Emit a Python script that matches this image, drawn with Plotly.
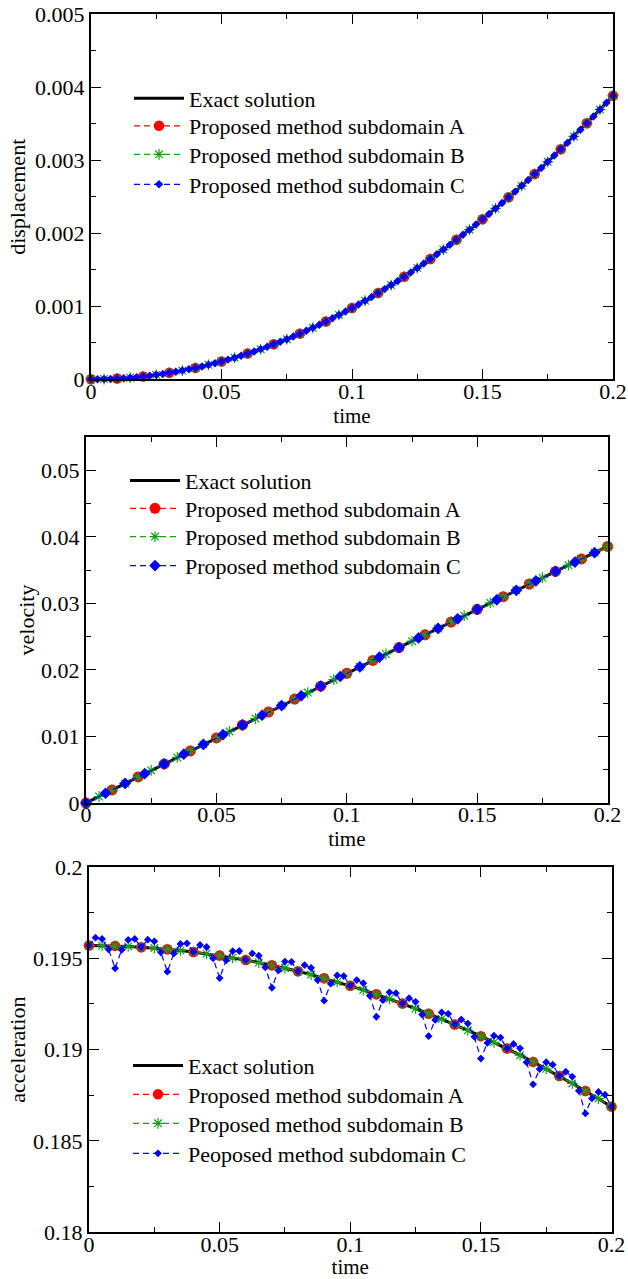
import plotly.graph_objects as go

# ---------------------------------------------------------------- time grids
t_coarse = [0.00, 0.01, 0.02, 0.03, 0.04, 0.05, 0.06, 0.07, 0.08, 0.09, 0.10,
            0.11, 0.12, 0.13, 0.14, 0.15, 0.16, 0.17, 0.18, 0.19, 0.20]
t_mid = [0.000, 0.005, 0.010, 0.015, 0.020, 0.025, 0.030, 0.035, 0.040, 0.045,
         0.050, 0.055, 0.060, 0.065, 0.070, 0.075, 0.080, 0.085, 0.090, 0.095,
         0.100, 0.105, 0.110, 0.115, 0.120, 0.125, 0.130, 0.135, 0.140, 0.145,
         0.150, 0.155, 0.160, 0.165, 0.170, 0.175, 0.180, 0.185, 0.190, 0.195,
         0.200]
t_vel_c = [0.0000, 0.0075, 0.0150, 0.0225, 0.0300, 0.0375, 0.0450, 0.0525,
           0.0600, 0.0675, 0.0750, 0.0825, 0.0900, 0.0975, 0.1050, 0.1125,
           0.1200, 0.1275, 0.1350, 0.1425, 0.1500, 0.1575, 0.1650, 0.1725,
           0.1800, 0.1875, 0.1950]
t_fine = [0.0000, 0.0025, 0.0050, 0.0075, 0.0100, 0.0125, 0.0150, 0.0175,
          0.0200, 0.0225, 0.0250, 0.0275, 0.0300, 0.0325, 0.0350, 0.0375,
          0.0400, 0.0425, 0.0450, 0.0475, 0.0500, 0.0525, 0.0550, 0.0575,
          0.0600, 0.0625, 0.0650, 0.0675, 0.0700, 0.0725, 0.0750, 0.0775,
          0.0800, 0.0825, 0.0850, 0.0875, 0.0900, 0.0925, 0.0950, 0.0975,
          0.1000, 0.1025, 0.1050, 0.1075, 0.1100, 0.1125, 0.1150, 0.1175,
          0.1200, 0.1225, 0.1250, 0.1275, 0.1300, 0.1325, 0.1350, 0.1375,
          0.1400, 0.1425, 0.1450, 0.1475, 0.1500, 0.1525, 0.1550, 0.1575,
          0.1600, 0.1625, 0.1650, 0.1675, 0.1700, 0.1725, 0.1750, 0.1775,
          0.1800, 0.1825, 0.1850, 0.1875, 0.1900, 0.1925, 0.1950, 0.1975,
          0.2000]

# ---------------------------------------------------------------- displacement
disp_exact = [0.0, 0.0000024, 0.0000098, 0.0000220, 0.0000391, 0.0000612,
              0.0000881, 0.0001198, 0.0001565, 0.0001981, 0.0002445, 0.0002958,
              0.0003520, 0.0004131, 0.0004790, 0.0005498, 0.0006255, 0.0007060,
              0.0007914, 0.0008816, 0.0009767, 0.0010766, 0.0011813, 0.0012908,
              0.0014052, 0.0015244, 0.0016484, 0.0017772, 0.0019108, 0.0020492,
              0.0021923, 0.0023402, 0.0024929, 0.0026503, 0.0028125, 0.0029794,
              0.0031511, 0.0033274, 0.0035084, 0.0036942, 0.0038846]
disp_a = [0.0, 0.0000098, 0.0000391, 0.0000881, 0.0001565, 0.0002445,
          0.0003520, 0.0004790, 0.0006255, 0.0007914, 0.0009767, 0.0011813,
          0.0014052, 0.0016484, 0.0019108, 0.0021923, 0.0024929, 0.0028125,
          0.0031511, 0.0035084, 0.0038846]
disp_b = [0.0, 0.0000024, 0.0000098, 0.0000220, 0.0000391, 0.0000612,
          0.0000881, 0.0001198, 0.0001565, 0.0001981, 0.0002445, 0.0002958,
          0.0003520, 0.0004131, 0.0004790, 0.0005498, 0.0006255, 0.0007060,
          0.0007914, 0.0008816, 0.0009767, 0.0010766, 0.0011813, 0.0012908,
          0.0014052, 0.0015244, 0.0016484, 0.0017772, 0.0019108, 0.0020492,
          0.0021923, 0.0023402, 0.0024929, 0.0026503, 0.0028125, 0.0029794,
          0.0031511, 0.0033274, 0.0035084, 0.0036942, 0.0038846]
disp_c = [0.0, 0.0000006, 0.0000024, 0.0000055, 0.0000098, 0.0000153,
          0.0000220, 0.0000300, 0.0000391, 0.0000495, 0.0000612, 0.0000740,
          0.0000881, 0.0001033, 0.0001198, 0.0001376, 0.0001565, 0.0001767,
          0.0001981, 0.0002207, 0.0002445, 0.0002696, 0.0002958, 0.0003233,
          0.0003520, 0.0003819, 0.0004131, 0.0004454, 0.0004790, 0.0005138,
          0.0005498, 0.0005870, 0.0006255, 0.0006651, 0.0007060, 0.0007481,
          0.0007914, 0.0008359, 0.0008816, 0.0009285, 0.0009767, 0.0010260,
          0.0010766, 0.0011283, 0.0011813, 0.0012355, 0.0012908, 0.0013474,
          0.0014052, 0.0014642, 0.0015244, 0.0015858, 0.0016484, 0.0017122,
          0.0017772, 0.0018434, 0.0019108, 0.0019794, 0.0020492, 0.0021202,
          0.0021923, 0.0022657, 0.0023402, 0.0024160, 0.0024929, 0.0025710,
          0.0026503, 0.0027308, 0.0028125, 0.0028954, 0.0029794, 0.0030646,
          0.0031511, 0.0032386, 0.0033274, 0.0034173, 0.0035084, 0.0036007,
          0.0036942, 0.0037888, 0.0038846]

# ---------------------------------------------------------------- velocity
vel_exact = [0.0, 0.0009785, 0.0019570, 0.0029353, 0.0039130, 0.0048914,
             0.0058690, 0.0068463, 0.0078230, 0.0087998, 0.0097760, 0.0107513,
             0.0117260, 0.0127003, 0.0136740, 0.0146465, 0.0156180, 0.0165894,
             0.0175590, 0.0185285, 0.0194970, 0.0204634, 0.0214290, 0.0223937,
             0.0233570, 0.0243189, 0.0252800, 0.0262387, 0.0271960, 0.0281524,
             0.0291070, 0.0300598, 0.0310110, 0.0319603, 0.0329080, 0.0338536,
             0.0347970, 0.0357391, 0.0366790, 0.0376165, 0.0385520]
vel_a = [0.0, 0.001957, 0.003913, 0.005869, 0.007823, 0.009776, 0.011726,
         0.013674, 0.015618, 0.017559, 0.019497, 0.021429, 0.023357, 0.025280,
         0.027196, 0.029107, 0.031011, 0.032908, 0.034797, 0.036679, 0.038552]
vel_b = [0.0, 0.0009785, 0.0019570, 0.0029353, 0.0039130, 0.0048914,
         0.0058690, 0.0068463, 0.0078230, 0.0087998, 0.0097760, 0.0107513,
         0.0117260, 0.0127003, 0.0136740, 0.0146465, 0.0156180, 0.0165894,
         0.0175590, 0.0185285, 0.0194970, 0.0204634, 0.0214290, 0.0223937,
         0.0233570, 0.0243189, 0.0252800, 0.0262387, 0.0271960, 0.0281524,
         0.0291070, 0.0300598, 0.0310110, 0.0319603, 0.0329080, 0.0338536,
         0.0347970, 0.0357391, 0.0366790, 0.0376165, 0.0385520]
vel_c = [0.0, 0.0014677, 0.0029353, 0.0044024, 0.0058690, 0.0073349,
         0.0087998, 0.0102636, 0.0117260, 0.0131871, 0.0146465, 0.0161040,
         0.0175590, 0.0190126, 0.0204634, 0.0219116, 0.0233570, 0.0247994,
         0.0262387, 0.0276746, 0.0291070, 0.0305356, 0.0319603, 0.0333810,
         0.0347970, 0.0362093, 0.0376165]

# ---------------------------------------------------------------- acceleration
acc_exact = [0.19570, 0.19569, 0.19568, 0.19565, 0.19561, 0.19556, 0.19550,
             0.19543, 0.19535, 0.19525, 0.19515, 0.19503, 0.19491, 0.19477,
             0.19462, 0.19446, 0.19429, 0.19411, 0.19391, 0.19371, 0.19350,
             0.19327, 0.19303, 0.19278, 0.19252, 0.19225, 0.19197, 0.19168,
             0.19138, 0.19106, 0.19074, 0.19040, 0.19006, 0.18970, 0.18933,
             0.18895, 0.18856, 0.18815, 0.18774, 0.18732, 0.18688]
acc_a = [0.19570, 0.19568, 0.19561, 0.19550, 0.19535, 0.19515, 0.19491,
         0.19462, 0.19429, 0.19391, 0.19350, 0.19303, 0.19252, 0.19197,
         0.19138, 0.19074, 0.19006, 0.18933, 0.18856, 0.18774, 0.18688]
acc_b = [0.19570, 0.19569, 0.19568, 0.19565, 0.19561, 0.19556, 0.19550,
         0.19543, 0.19535, 0.19525, 0.19515, 0.19503, 0.19491, 0.19477,
         0.19462, 0.19446, 0.19429, 0.19411, 0.19391, 0.19371, 0.19350,
         0.19327, 0.19303, 0.19278, 0.19252, 0.19225, 0.19197, 0.19168,
         0.19138, 0.19106, 0.19074, 0.19040, 0.19006, 0.18970, 0.18933,
         0.18895, 0.18856, 0.18815, 0.18774, 0.18732, 0.18688]
acc_c = [0.19570, 0.19613, 0.19606, 0.19549, 0.19445, 0.19547, 0.19601,
         0.19606, 0.19561, 0.19602, 0.19593, 0.19533, 0.19427, 0.19527,
         0.19579, 0.19582, 0.19535, 0.19573, 0.19562, 0.19500, 0.19392,
         0.19489, 0.19539, 0.19540, 0.19491, 0.19527, 0.19514, 0.19450,
         0.19339, 0.19434, 0.19482, 0.19481, 0.19429, 0.19463, 0.19448,
         0.19381, 0.19268, 0.19361, 0.19407, 0.19403, 0.19350, 0.19381,
         0.19364, 0.19295, 0.19180, 0.19271, 0.19314, 0.19309, 0.19252,
         0.19282, 0.19262, 0.19192, 0.19074, 0.19163, 0.19204, 0.19196,
         0.19138, 0.19165, 0.19143, 0.19070, 0.18951, 0.19037, 0.19076,
         0.19066, 0.19006, 0.19031, 0.19007, 0.18931, 0.18810, 0.18894,
         0.18931, 0.18918, 0.18856, 0.18879, 0.18852, 0.18775, 0.18651,
         0.18733, 0.18768, 0.18753, 0.18688]

# ---------------------------------------------------------------- tick labels
x_ticks = [0, 0.05, 0.1, 0.15, 0.2]
x_tick_text = ["0", "0.05", "0.1", "0.15", "0.2"]
disp_ticks = [0, 0.001, 0.002, 0.003, 0.004, 0.005]
disp_tick_text = ["0", "0.001", "0.002", "0.003", "0.004", "0.005"]
vel_ticks = [0, 0.01, 0.02, 0.03, 0.04, 0.05]
vel_tick_text = ["0", "0.01", "0.02", "0.03", "0.04", "0.05"]
acc_ticks = [0.18, 0.185, 0.19, 0.195, 0.2]
acc_tick_text = ["0.18", "0.185", "0.19", "0.195", "0.2"]

label_exact = "Exact solution"
label_a = "Proposed method subdomain A"
label_b = "Proposed method subdomain B"
label_c = "Proposed method subdomain C"
label_c_acc = "Peoposed method subdomain C"

# ---------------------------------------------------------------- styling
FONT = "Liberation Serif"
FS = 22
RED = "#ff0000"
GREEN = "#16a016"
BLUE = "#0000ff"
DASH = "6px,4px"
W, H = 628, 1279

panels = [
    dict(name="", ylabel="displacement", ystandoff=3,
         yrange=[0, 0.005], yticks=disp_ticks, ytext=disp_tick_text, yminor=0.0005,
         exact=(t_mid, disp_exact), a=(t_coarse, disp_a), b=(t_mid, disp_b),
         c=(t_fine, disp_c), c_label=label_c, a_size=10.5, c_size=6.5,
         box=(91, 613, 14.3, 379.3),
         leg_x=129, leg_rows=[100, 127.5, 156, 186]),
    dict(name="2", ylabel="velocity", ystandoff=0,
         yrange=[0, 0.055], yticks=vel_ticks, ytext=vel_tick_text, yminor=0.005,
         exact=(t_mid, vel_exact), a=(t_coarse, vel_a), b=(t_mid, vel_b),
         c=(t_vel_c, vel_c), c_label=label_c, a_size=11, c_size=9,
         box=(86, 607.6, 437, 803),
         leg_x=125, leg_rows=[482.3, 510, 538.3, 567.3]),
    dict(name="3", ylabel="acceleration", ystandoff=1,
         yrange=[0.18, 0.2], yticks=acc_ticks, ytext=acc_tick_text, yminor=0.0025,
         exact=(t_mid, acc_exact), a=(t_coarse, acc_a), b=(t_mid, acc_b),
         c=(t_fine, acc_c), c_label=label_c_acc, a_size=10.5, c_size=6,
         box=(89, 611.5, 867, 1232.3),
         leg_x=128, leg_rows=[1067.3, 1096, 1125, 1155]),
]

fig = go.Figure()
layout = dict(width=W, height=H,
              margin=dict(l=0, r=0, t=0, b=0, autoexpand=False),
              showlegend=True,
              paper_bgcolor="white", plot_bgcolor="white",
              font=dict(family=FONT, size=FS, color="black"))
text_font = dict(family=FONT, size=FS, color="black")
xtitle_font = dict(family=FONT, size=21, color="black")
ROW_OFFSET = 22.5  # legend top to centre of its single row

legend_no = 0
for p in panels:
    xa, ya = "x" + p["name"], "y" + p["name"]
    entries = [
        dict(x=p["exact"][0], y=p["exact"][1], mode="lines", name=label_exact,
             line=dict(color="black", width=3)),
        dict(x=p["a"][0], y=p["a"][1], mode="lines+markers", name=label_a,
             line=dict(color=RED, width=1.3, dash=DASH),
             marker=dict(symbol="circle", size=p["a_size"], color=RED,
                         line=dict(width=0))),
        dict(x=p["b"][0], y=p["b"][1], mode="lines+markers", name=label_b,
             line=dict(color=GREEN, width=1.3, dash=DASH),
             marker=dict(symbol="asterisk-open", size=9, color=GREEN,
                         line=dict(width=1.2, color=GREEN))),
        dict(x=p["c"][0], y=p["c"][1], mode="lines+markers", name=p["c_label"],
             line=dict(color=BLUE, width=1.2, dash=DASH),
             marker=dict(symbol="diamond", size=p["c_size"], color=BLUE,
                         line=dict(width=0))),
    ]
    # each entry gets its own legend box so the rows can be placed exactly
    for entry, row_y in zip(entries, p["leg_rows"]):
        legend_no += 1
        leg_name = "legend" if legend_no == 1 else "legend%d" % legend_no
        fig.add_trace(go.Scatter(xaxis=xa, yaxis=ya, legend=leg_name,
                                 showlegend=True, cliponaxis=False, **entry))
        layout[leg_name] = dict(x=p["leg_x"] / W, y=1 - (row_y - ROW_OFFSET) / H,
                                xanchor="left", yanchor="top", visible=True,
                                bgcolor="rgba(0,0,0,0)", borderwidth=0,
                                itemwidth=50, font=text_font)

    x0, x1, ytop, ybot = p["box"]
    axis_common = dict(ticks="inside", ticklen=10, tickwidth=1, tickcolor="black",
                       showline=True, linewidth=2, linecolor="black", mirror="ticks",
                       showgrid=False, zeroline=False, tickfont=text_font)
    layout["xaxis" + p["name"]] = dict(
        domain=[x0 / W, x1 / W], anchor=ya, range=[0, 0.2], tickmode="array",
        tickvals=x_ticks, ticktext=x_tick_text, ticklabelstandoff=-9,
        minor=dict(ticks="inside", ticklen=5, tickwidth=1, tickcolor="black",
                   dtick=0.025, tick0=0),
        title=dict(text="time", font=xtitle_font, standoff=0),
        **axis_common)
    layout["yaxis" + p["name"]] = dict(
        domain=[1 - ybot / H, 1 - ytop / H], anchor=xa, range=p["yrange"],
        tickmode="array", tickvals=p["yticks"], ticktext=p["ytext"],
        minor=dict(ticks="inside", ticklen=5, tickwidth=1, tickcolor="black",
                   dtick=p["yminor"], tick0=0),
        title=dict(text=p["ylabel"], font=text_font, standoff=p["ystandoff"]),
        **axis_common)

fig.update_layout(**layout)
fig.write_html("out.html")
